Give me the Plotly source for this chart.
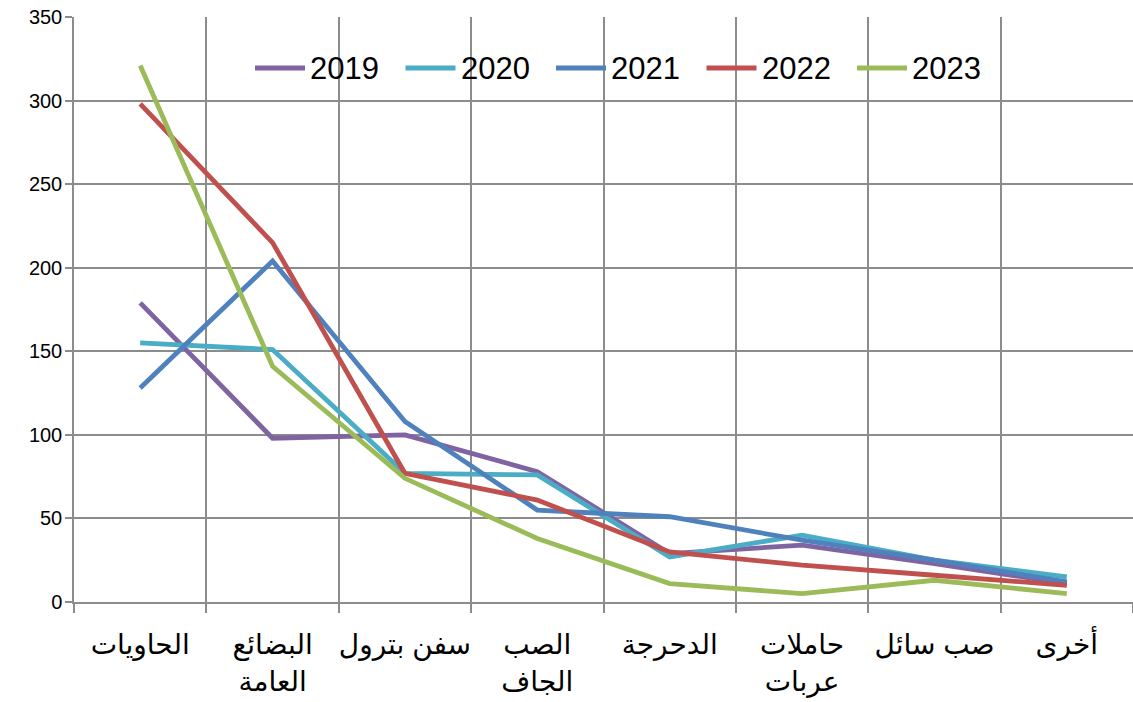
import plotly.graph_objects as go

categories = ["الحاويات", "البضائع<br>العامة", "سفن بترول", "الصب<br>الجاف",
              "الدحرجة", "حاملات<br>عربات", "صب سائل", "أخرى"]
years = ["2019", "2020", "2021", "2022", "2023"]
v2019 = [179, 98, 100, 78, 29, 34, 23, 11]
v2020 = [155, 151, 77, 76, 27, 40, 25, 15]
v2021 = [128, 204, 108, 55, 51, 37, 25, 12]
v2022 = [298, 215, 77, 61, 30, 22, 16, 10]
v2023 = [321, 141, 74, 38, 11, 5, 13, 5]
series = [v2019, v2020, v2021, v2022, v2023]
colors = ["#8064A2", "#4BACC6", "#4F81BD", "#C0504D", "#9BBB59"]
y_ticks = [0, 50, 100, 150, 200, 250, 300, 350]

W, H = 1133, 702
L, R, T, B = 74, 0, 17, 100
pw, ph = W - L - R, H - T - B

fig = go.Figure()
for name, vals, col in zip(years, series, colors):
    fig.add_trace(go.Scatter(x=categories, y=vals, name=name, mode="lines",
                             line=dict(color=col, width=4.8), showlegend=False))

# custom legend (line sample + label), in paper coordinates
leg_y = 1 - (68 - T) / ph
for i, (name, col) in enumerate(zip(years, colors)):
    x0 = 255 + i * 150.5
    fig.add_shape(type="line", xref="paper", yref="paper",
                  x0=(x0 - L) / pw, x1=(x0 + 50 - L) / pw, y0=leg_y, y1=leg_y,
                  line=dict(color=col, width=5))
    fig.add_annotation(xref="paper", yref="paper", x=(x0 + 53 - L) / pw, y=leg_y,
                       xanchor="left", yanchor="middle", text=name, showarrow=False,
                       font=dict(size=31, family="Liberation Sans, Arial", color="black"))

fig.update_layout(
    width=W, height=H,
    margin=dict(l=L, r=R, t=T, b=B, autoexpand=False),
    paper_bgcolor="white", plot_bgcolor="white",
    font=dict(family="Liberation Sans, Arial, DejaVu Sans", color="black"),
    showlegend=False,
)
fig.update_xaxes(type="category", tickson="boundaries", showgrid=True,
                 gridcolor="#8C8C8C", gridwidth=1.5, automargin=False,
                 showline=True, linecolor="#8C8C8C", linewidth=1.5,
                 ticks="outside", ticklen=9, tickcolor="#8C8C8C", tickwidth=1.5,
                 tickangle=0, ticklabeloverflow="allow",
                 tickfont=dict(size=28, family="Liberation Sans, Arial, DejaVu Sans"),
                 ticklabelstandoff=17, range=[-0.5, 7.5])
fig.update_yaxes(range=[0, 350], tickvals=y_ticks, showgrid=True,
                 gridcolor="#8C8C8C", gridwidth=1.5, automargin=False,
                 showline=True, linecolor="#8C8C8C", linewidth=1.5,
                 ticks="outside", ticklen=7, tickcolor="#8C8C8C", tickwidth=1.5,
                 ticklabeloverflow="allow", ticklabelstandoff=-1,
                 tickfont=dict(size=20), zeroline=False)

fig.write_html("out.html", config={"displayModeBar": False},
               post_script="document.body.style.margin='0';")
